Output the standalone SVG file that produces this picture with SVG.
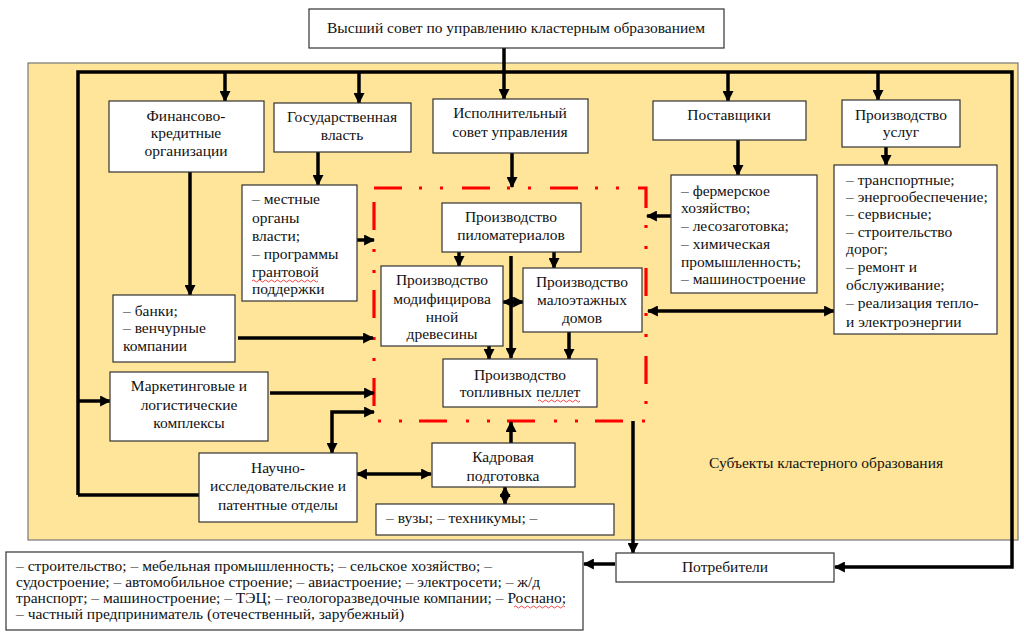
<svg xmlns="http://www.w3.org/2000/svg" width="1024" height="639" viewBox="0 0 1024 639">
<defs>
<style>
.box{fill:#fff;stroke:#333;stroke-width:1.2}
.t{font-family:"Liberation Serif","Times New Roman",serif;font-size:15.5px;fill:#111}
.c{text-anchor:middle}
.ln{fill:none;stroke:#000;stroke-width:3.5}
.a{marker-end:url(#ah)}
.b{marker-start:url(#ah);marker-end:url(#ah)}
.red{fill:none;stroke:#ff0000;stroke-width:3.2;stroke-dasharray:28 17 3 18 3 19}
.sq{fill:none;stroke:#e33;stroke-width:0.9}
</style>
<marker id="ah" viewBox="0 0 10 10" refX="9" refY="5" markerWidth="11" markerHeight="11" markerUnits="userSpaceOnUse" orient="auto-start-reverse">
<path d="M0,0 L10,5 L0,10 z" fill="#000"/>
</marker>
</defs>
<rect width="1024" height="639" fill="#fff"/>
<rect id="cluster" x="28" y="63" width="990" height="477" fill="#FFE599" stroke="#777" stroke-width="1.2"/>
<rect id="core" class="red" x="374" y="188" width="272" height="233"/>

<g id="connectors">
<path class="ln" d="M504,48 V99" marker-end="url(#ah)"/>
<path class="ln" d="M78,495 V72 H1012 V567 H835" marker-end="url(#ah)"/>
<path class="ln a" d="M78,495 H217"/>
<path class="ln a" d="M78,401 H110"/>
<path class="ln a" d="M225,72 V101"/>
<path class="ln a" d="M359,72 V103"/>
<path class="ln a" d="M728,72 V101"/>
<path class="ln a" d="M878,72 V100"/>
<path class="ln a" d="M318,152 V185"/>
<path class="ln a" d="M190,172 V295"/>
<path class="ln a" d="M512,153 V187"/>
<path class="ln a" d="M357,240 H374"/>
<path class="ln a" d="M238,338 H373"/>
<path class="ln a" d="M270,393 H374"/>
<path class="ln b" d="M332,453 V412 H374"/>
<path class="ln b" d="M357,474 H431"/>
<path class="ln a" d="M511,443 V422"/>
<path class="ln b" d="M505,487 V504"/>
<path class="ln a" d="M738,140 V175"/>
<path class="ln a" d="M671,216 H647"/>
<path class="ln a" d="M886,147 V165"/>
<path class="ln b" d="M648,311 H834"/>
<path class="ln a" d="M459,252 V266"/>
<path class="ln a" d="M554,252 V268"/>
<path class="ln a" d="M511,256 V358"/>
<path class="ln a" d="M489,346 V359"/>
<path class="ln a" d="M569,332 V359"/>
<path class="ln b" d="M503,302 H523"/>
<path class="ln a" d="M633,421 V553"/>
<path class="ln a" d="M615,564 H584"/>
</g>

<g id="top"><rect class="box" x="309" y="9" width="415" height="39"/>
<text class="t c" x="516" y="33">Высший совет по управлению кластерным образованием</text></g>

<g id="fin"><rect class="box" x="109" y="101" width="155" height="71"/>
<text class="t c" x="186" y="121">Финансово-</text><text class="t c" x="186" y="138">кредитные</text><text class="t c" x="186" y="156">организации</text></g>

<g id="gos"><rect class="box" x="274" y="103" width="137" height="49"/>
<text class="t c" x="342" y="122">Государственная</text><text class="t c" x="342" y="140">власть</text></g>

<g id="isp"><rect class="box" x="433" y="99" width="155" height="54"/>
<text class="t c" x="510" y="118">Исполнительный</text><text class="t c" x="510" y="137">совет управления</text></g>

<g id="post"><rect class="box" x="653" y="101" width="153" height="39"/>
<text class="t c" x="729" y="120">Поставщики</text></g>

<g id="usl"><rect class="box" x="842" y="100" width="118" height="47"/>
<text class="t c" x="901" y="120">Производство</text><text class="t c" x="901" y="137">услуг</text></g>

<g id="mest"><rect class="box" x="242" y="185" width="115" height="116"/>
<text class="t" x="252" y="204">– местные</text><text class="t" x="252" y="223">органы</text><text class="t" x="252" y="241">власти;</text><text class="t" x="252" y="259">– программы</text><text class="t" x="252" y="277">грантовой</text><text class="t" x="252" y="294">поддержки</text>
<path class="sq" d="M252,281 q1.5,-2 3,0 t3,0 t3,0 t3,0 t3,0 t3,0 t3,0 t3,0 t3,0 t3,0 t3,0 t3,0 t3,0 t3,0 t3,0 t3,0 t3,0 t3,0 t3,0 t3,0 t3,0 t3,0"/></g>

<g id="bank"><rect class="box" x="113" y="295" width="122" height="67"/>
<text class="t" x="123" y="316">– банки;</text><text class="t" x="123" y="333">– венчурные</text><text class="t" x="123" y="351">компании</text></g>

<g id="mark"><rect class="box" x="110" y="372" width="158" height="69"/>
<text class="t c" x="189" y="391">Маркетинговые и</text><text class="t c" x="189" y="410">логистические</text><text class="t c" x="189" y="428">комплексы</text></g>

<g id="nauch"><rect class="box" x="199" y="453" width="158" height="69"/>
<text class="t c" x="278" y="473">Научно-</text><text class="t c" x="278" y="491">исследовательские и</text><text class="t c" x="278" y="510">патентные отделы</text></g>

<g id="kadr"><rect class="box" x="432" y="443" width="143" height="44"/>
<text class="t c" x="503" y="462">Кадровая</text><text class="t c" x="503" y="481">подготовка</text></g>

<g id="vuz"><rect class="box" x="376" y="504" width="238" height="31"/>
<text class="t" x="386" y="523">– вузы; – техникумы; –</text></g>

<g id="pilo"><rect class="box" x="442" y="203" width="139" height="49"/>
<text class="t c" x="511" y="222">Производство</text><text class="t c" x="511" y="240">пиломатериалов</text></g>

<g id="mod"><rect class="box" x="381" y="266" width="122" height="80"/>
<text class="t c" x="442" y="285">Производство</text><text class="t c" x="442" y="304">модифицирова</text><text class="t c" x="442" y="322">нной</text><text class="t c" x="442" y="339">древесины</text></g>

<g id="malo"><rect class="box" x="523" y="268" width="119" height="64"/>
<text class="t c" x="582" y="287">Производство</text><text class="t c" x="582" y="305">малоэтажных</text><text class="t c" x="582" y="323">домов</text></g>

<g id="pell"><rect class="box" x="443" y="359" width="154" height="48"/>
<text class="t c" x="520" y="380">Производство</text><text class="t c" x="520" y="397">топливных пеллет</text>
<path class="sq" d="M538,401 q1.5,-2 3,0 t3,0 t3,0 t3,0 t3,0 t3,0 t3,0 t3,0 t3,0 t3,0 t3,0 t3,0 t3,0 t3,0"/></g>

<g id="ferm"><rect class="box" x="671" y="175" width="146" height="118"/>
<text class="t" x="681" y="196">– фермерское</text><text class="t" x="681" y="213">хозяйство;</text><text class="t" x="681" y="231">– лесозаготовка;</text><text class="t" x="681" y="249">– химическая</text><text class="t" x="681" y="267">промышленность;</text><text class="t" x="681" y="284">– машиностроение</text></g>

<g id="trans"><rect class="box" x="834" y="165" width="163" height="169"/>
<text class="t" x="846" y="185">– транспортные;</text><text class="t" x="846" y="202">– энергообеспечение;</text><text class="t" x="846" y="219">– сервисные;</text><text class="t" x="846" y="237">– строительство</text><text class="t" x="846" y="254">дорог;</text><text class="t" x="846" y="272">– ремонт и</text><text class="t" x="846" y="290">обслуживание;</text><text class="t" x="846" y="308">– реализация тепло-</text><text class="t" x="846" y="327">и электроэнергии</text></g>

<text id="subj" class="t c" x="826" y="468">Субъекты кластерного образования</text>

<g id="potr"><rect class="box" x="616" y="553" width="218" height="29"/>
<text class="t c" x="725" y="572">Потребители</text></g>

<g id="list"><rect class="box" x="6" y="552" width="577" height="78"/>
<text class="t" x="16" y="571">– строительство; – мебельная промышленность; – сельское хозяйство; –</text>
<text class="t" x="16" y="587">судостроение; – автомобильное строение; – авиастроение; – электросети; – ж/д</text>
<text class="t" x="16" y="603">транспорт; – машиностроение; – ТЭЦ; – геологоразведочные компании; – Роснано;</text>
<text class="t" x="16" y="619">– частный предприниматель (отечественный, зарубежный)</text>
<path class="sq" d="M514,607 q1.5,-2 3,0 t3,0 t3,0 t3,0 t3,0 t3,0 t3,0 t3,0 t3,0 t3,0 t3,0 t3,0 t3,0 t3,0 t3,0 t3,0 t3,0"/></g>
</svg>
